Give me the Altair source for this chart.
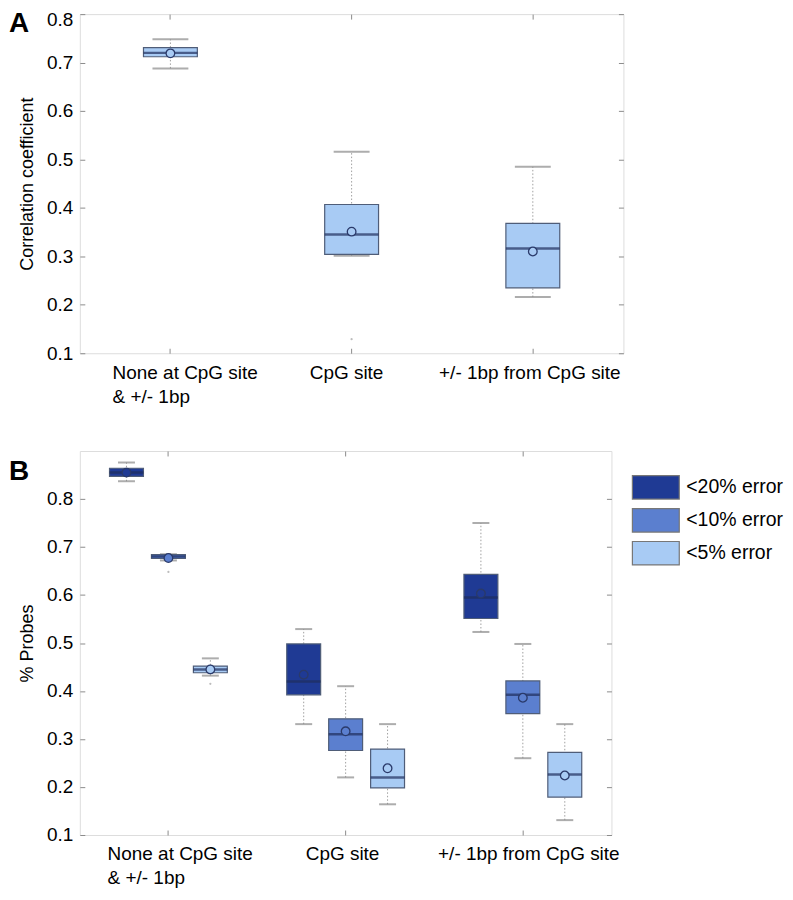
import altair as alt
import pandas as pd

FONT = "Liberation Sans"

cats = ["None at CpG site\n& +/- 1bp", "CpG site", "+/- 1bp from CpG site"]

# Panel A: correlation coefficient box statistics
a_lo = [0.688, 0.301, 0.216]
a_q1 = [0.712, 0.304, 0.235]
a_med = [0.720, 0.345, 0.316]
a_q3 = [0.731, 0.407, 0.368]
a_hi = [0.748, 0.516, 0.485]
a_mean = [0.719, 0.351, 0.310]
a_out_cat = [cats[1]]
a_out_val = [0.129]

# Panel B: % probes, three error thresholds per group
series = ["<20% error", "<10% error", "<5% error"]
b_group = [c for c in cats for _ in series]
b_series = series * 3
b_lo = [0.837, 0.672, 0.432, 0.331, 0.220, 0.164, 0.523, 0.260, 0.131]
b_q1 = [0.847, 0.676, 0.438, 0.392, 0.276, 0.198, 0.551, 0.353, 0.179]
b_med = [0.855, 0.680, 0.445, 0.420, 0.310, 0.220, 0.595, 0.392, 0.226]
b_q3 = [0.864, 0.684, 0.452, 0.498, 0.342, 0.279, 0.643, 0.421, 0.272]
b_hi = [0.876, 0.685, 0.468, 0.529, 0.410, 0.331, 0.750, 0.498, 0.331]
b_mean = [0.855, 0.677, 0.445, 0.434, 0.316, 0.239, 0.603, 0.386, 0.224]
b_out_group = [cats[0], cats[0]]
b_out_series = ["<10% error", "<5% error"]
b_out_val = [0.648, 0.415]

y_ticks = [0.1, 0.2, 0.3, 0.4, 0.5, 0.6, 0.7, 0.8]
colors = ["#1f3a94", "#5b7fcf", "#a8cbf4"]

dfA = pd.DataFrame({"cat": cats, "lo": a_lo, "q1": a_q1, "med": a_med,
                    "q3": a_q3, "hi": a_hi, "mean": a_mean})
outA = pd.DataFrame({"cat": a_out_cat, "val": a_out_val})
dfB = pd.DataFrame({"cat": b_group, "series": b_series, "lo": b_lo, "q1": b_q1,
                    "med": b_med, "q3": b_q3, "hi": b_hi, "mean": b_mean})
outB = pd.DataFrame({"cat": b_out_group, "series": b_out_series, "val": b_out_val})


def label_offset(offs):
    return {"condition": [
        {"test": "indexof(datum.value, 'None') >= 0", "value": offs[0]},
        {"test": "datum.value == 'CpG site'", "value": offs[1]},
    ], "value": offs[2]}


def panel(df, out, W, H, ydom, ytitle, letter, letter_y, xscale, offs,
          box_w, cap_w, grouped):
    ys = alt.Scale(domain=ydom, nice=False, zero=False)
    xnone = alt.X("cat:N", sort=cats, scale=xscale, axis=None)
    xoff = {}
    if grouped:
        xoff = {"xOffset": alt.XOffset("series:N", sort=series,
                                       scale=alt.Scale(paddingInner=0, paddingOuter=0))}
    base = alt.Chart(df)

    whisk = base.mark_rule(color="#a0a0a0", strokeDash=[1.5, 2], strokeWidth=1).encode(
        x=xnone, y=alt.Y("lo:Q", scale=ys, axis=None), y2="hi:Q", **xoff)
    cap_lo = base.mark_tick(color="#8a8a8a", size=cap_w, thickness=2, orient="horizontal").encode(
        x=xnone, y=alt.Y("lo:Q", scale=ys, axis=None), **xoff)
    cap_hi = base.mark_tick(color="#8a8a8a", size=cap_w, thickness=2, orient="horizontal").encode(
        x=xnone, y=alt.Y("hi:Q", scale=ys, axis=None), **xoff)

    x_axis = alt.Axis(title=None, offset=-5, tickSize=5, domain=False, labelAngle=0,
                      labelAlign="left", labelOffset=label_offset(offs),
                      labelExpr="split(datum.label, '\\n')", labelPadding=10,
                      labelLineHeight=24, labelFontSize=19, labelOverlap=False,
                      labelLimit=0, labelColor="black", tickColor="#8c8c8c", labelFont=FONT)
    top_test = "datum.value >= %f" % (ydom[1] - 0.01)
    y_axis = alt.Axis(values=y_ticks, format=".1f", offset=-5, tickSize=5, domain=False,
                      grid=False, labelPadding=7, title=ytitle, titlePadding=10,
                      labelFontSize=19, titleFontSize=18, titleFontWeight="normal",
                      labelBaseline={"condition": {"test": top_test, "value": "top"},
                                     "value": "middle"},
                      labelOffset={"condition": {"test": top_test, "value": -4},
                                   "value": 0},
                      tickColor="#8c8c8c", labelColor="black", titleColor="black",
                      labelFont=FONT, titleFont=FONT)
    if grouped:
        fill = alt.Fill("series:N", sort=series,
                        scale=alt.Scale(domain=series, range=colors),
                        legend=alt.Legend(title=None, orient="none", legendX=565, legendY=24,
                                          symbolType="M-2,-1H2V1H-2Z", symbolSize=552,
                                          symbolStrokeColor="#777777", symbolStrokeWidth=1.2,
                                          symbolOpacity=1, labelFontSize=19.5, labelFont=FONT,
                                          labelColor="black", labelOffset=18, rowPadding=4))
        mfill = alt.Fill("series:N", sort=series,
                         scale=alt.Scale(domain=series, range=colors), legend=None)
    else:
        fill = alt.value(colors[2])
        mfill = alt.value(colors[2])

    box = base.mark_bar(size=box_w, stroke="#4f5d78", strokeWidth=1.2).encode(
        x=alt.X("cat:N", sort=cats, scale=xscale, axis=x_axis),
        y=alt.Y("q1:Q", scale=ys, axis=y_axis), y2="q3:Q", fill=fill, **xoff)
    med = base.mark_tick(color="#1f2d5c", size=box_w, thickness=2.5, orient="horizontal").encode(
        x=xnone, y=alt.Y("med:Q", scale=ys, axis=None), **xoff)
    mean = base.mark_point(shape="circle", filled=True, size=75, stroke="#2a3a6a",
                           strokeWidth=1.3, opacity=1).encode(
        x=xnone, y=alt.Y("mean:Q", scale=ys, axis=None), fill=mfill, **xoff)
    outl = alt.Chart(out).mark_circle(size=5, color="#a0a0a0").encode(
        x=xnone, y=alt.Y("val:Q", scale=ys, axis=None), **xoff)

    ghost = base.mark_point(opacity=0).encode(
        x=alt.X("cat:N", sort=cats, scale=xscale,
                axis=alt.Axis(orient="top", labels=False, title=None, offset=-5, tickSize=5,
                              domain=False, tickColor="#8c8c8c")),
        y=alt.Y("med:Q", scale=ys,
                axis=alt.Axis(orient="right", labels=False, title=None, offset=-5, tickSize=5,
                              domain=False, grid=False, values=y_ticks, tickColor="#8c8c8c")),
        **xoff)

    let = alt.Chart(alt.Data(values=[{"t": letter}])).mark_text(
        fontSize=28, fontWeight="bold", align="left", baseline="top", font=FONT,
        color="black").encode(x=alt.value(-71), y=alt.value(letter_y), text="t:N")

    layers = [whisk, cap_lo, cap_hi, box, med, mean, outl, ghost, let]
    ch = alt.layer(*layers).properties(width=W, height=H).resolve_axis(
        x="independent", y="independent")
    if grouped:
        ch = ch.resolve_legend(fill="independent")
    return ch


panelA = panel(dfA, outA, 545, 340, [0.1, 0.8], "Correlation coefficient", "A", -4,
               alt.Scale(paddingInner=0, paddingOuter=0), [-58, -42, -94], 54, 36, False)
panelB = panel(dfB, outB, 533, 385, [0.1, 0.9], "% Probes", "B", 7,
               alt.Scale(paddingInner=0.29, paddingOuter=0.145), [-61, -40, -85], 34, 17, True)

chart = alt.vconcat(panelA, panelB, spacing=43).properties(
    padding={"left": 0, "top": 0, "right": 0, "bottom": 0}
).configure_view(stroke="#8c8c8c", strokeWidth=1.2).configure(font=FONT)

chart.save("out.html", embed_options={"renderer": "svg", "actions": False})
